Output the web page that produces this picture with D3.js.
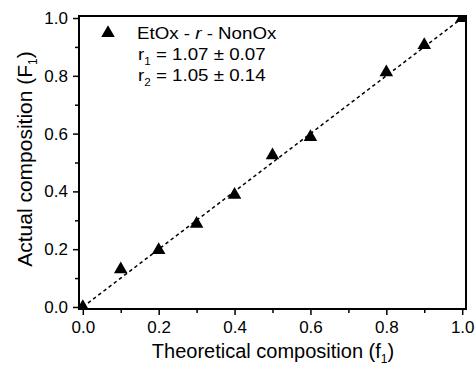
<!DOCTYPE html>
<html>
<head>
<meta charset="utf-8">
<script src="https://cdn.jsdelivr.net/npm/d3@7"></script>
<style>
  body { margin: 0; background: #fff; }
  svg { display: block; font-family: "Liberation Sans", Arial, sans-serif; }
</style>
</head>
<body>
<svg id="chart"></svg>
<script>
var width = 476, height = 366;

// data
var theoretical = [0.0, 0.1, 0.2, 0.3, 0.4, 0.5, 0.6, 0.8, 0.9, 1.0];
var actual      = [0.0, 0.13, 0.197, 0.288, 0.388, 0.525, 0.588, 0.812, 0.906, 1.0];
var fitLine     = [[0, 0], [1, 1]];
var majorTicks  = [0, 0.2, 0.4, 0.6, 0.8, 1.0];
var minorTicks  = [0.1, 0.3, 0.5, 0.7, 0.9];
var legendLines = ["r1 = 1.07 \u00b1 0.07", "r2 = 1.05 \u00b1 0.14"];

var svg = d3.select("#chart").attr("width", width).attr("height", height);

var margin = {top: 16, left: 79, bottom: 57, right: 10};
var x = d3.scaleLinear().domain([-0.01, 1.01]).range([margin.left, width - margin.right]);
var y = d3.scaleLinear().domain([-0.007, 1.007]).range([height - margin.bottom, margin.top]);

// clip for markers
svg.append("clipPath").attr("id", "plotclip").append("rect")
  .attr("x", x.range()[0]).attr("y", y.range()[1])
  .attr("width", x.range()[1] - x.range()[0])
  .attr("height", y.range()[0] - y.range()[1]);

// axes with major + minor ticks
var xAxis = d3.axisBottom(x).tickValues(majorTicks).tickFormat(d3.format(".1f")).tickSize(6).tickPadding(6);
var xMinor = d3.axisBottom(x).tickValues(minorTicks).tickFormat("").tickSize(4);
var yAxis = d3.axisLeft(y).tickValues(majorTicks).tickFormat(d3.format(".1f")).tickSize(6).tickPadding(5);
var yMinor = d3.axisLeft(y).tickValues(minorTicks).tickFormat("").tickSize(4);

function styleAxis(g) {
  g.select(".domain").remove();
  g.selectAll("line").attr("stroke", "#000").attr("stroke-width", 1.5);
  g.selectAll("text").attr("fill", "#000").style("font-size", "17px");
}

svg.append("g").attr("transform", "translate(0," + y.range()[0] + ")").call(xAxis).call(styleAxis);
svg.append("g").attr("transform", "translate(0," + y.range()[0] + ")").call(xMinor).call(styleAxis);
svg.append("g").attr("transform", "translate(" + x.range()[0] + ",0)").call(yAxis).call(styleAxis);
svg.append("g").attr("transform", "translate(" + x.range()[0] + ",0)").call(yMinor).call(styleAxis);

// frame
svg.append("rect")
  .attr("x", x.range()[0]).attr("y", y.range()[1])
  .attr("width", x.range()[1] - x.range()[0])
  .attr("height", y.range()[0] - y.range()[1])
  .attr("fill", "none").attr("stroke", "#000").attr("stroke-width", 2);

// dashed guide line
var line = d3.line().x(function(d){ return x(d[0]); }).y(function(d){ return y(d[1]); });
svg.append("path").datum(fitLine)
  .attr("d", line)
  .attr("fill", "none").attr("stroke", "#000")
  .attr("stroke-width", 1.5).attr("stroke-dasharray", "3.5,3");

// triangles
var tri = d3.symbol().type(d3.symbolTriangle).size(80);
svg.append("g").attr("clip-path", "url(#plotclip)")
  .selectAll("path.pt")
  .data(theoretical.map(function(t, i){ return [t, actual[i]]; }))
  .enter().append("path").attr("class", "pt")
  .attr("d", tri)
  .attr("transform", function(d){ return "translate(" + x(d[0]) + "," + y(d[1]) + ")"; })
  .attr("fill", "#000");

// legend (text is a bit wide in the original, so stretch it horizontally)
var leg = svg.append("g");
leg.append("path").attr("d", tri).attr("transform", "translate(108,33)").attr("fill", "#000");
var t0 = leg.append("text").attr("transform", "translate(137,39) scale(1.17,1)").style("font-size", "16px");
t0.append("tspan").text("EtOx - ");
t0.append("tspan").style("font-style", "italic").text("r");
t0.append("tspan").text(" - NonOx");

legendLines.forEach(function(s, i) {
  var t = leg.append("text").attr("transform", "translate(138," + (60 + i * 21) + ") scale(1.17,1)")
    .style("font-size", "16px");
  t.append("tspan").text(s.slice(0, 1));
  t.append("tspan").attr("dy", 5).style("font-size", "10px").text(s.slice(1, 2));
  t.append("tspan").attr("dy", -5).text(s.slice(2));
});

// axis titles
var xt = svg.append("text")
  .attr("x", 273).attr("y", 358)
  .attr("text-anchor", "middle").style("font-size", "20px");
xt.append("tspan").text("Theoretical composition (f");
xt.append("tspan").attr("dy", 5).style("font-size", "12px").text("1");
xt.append("tspan").attr("dy", -5).text(")");

var yt = svg.append("text")
  .attr("transform", "translate(32,159) rotate(-90)")
  .attr("text-anchor", "middle").style("font-size", "21px");
yt.append("tspan").text("Actual composition (F");
yt.append("tspan").attr("dy", 5).style("font-size", "12px").text("1");
yt.append("tspan").attr("dy", -5).text(")");
</script>
</body>
</html>
